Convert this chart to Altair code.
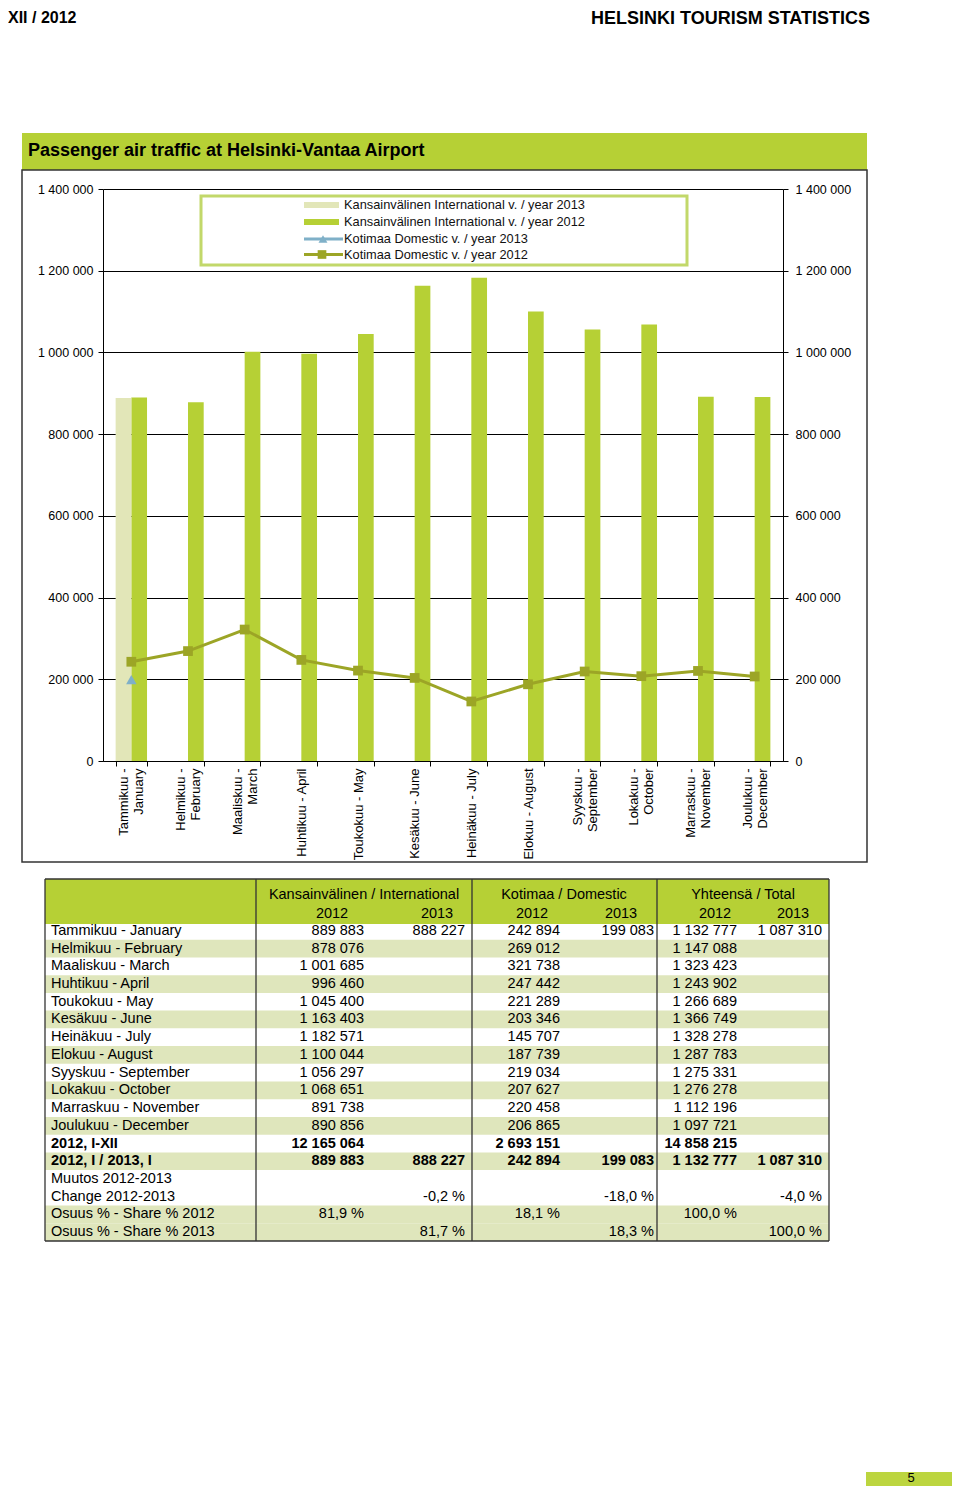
import altair as alt
import pandas as pd

# ---------------- data ----------------
axis_months = ["Tammikuu -\nJanuary", "Helmikuu -\nFebruary", "Maaliskuu -\nMarch",
               "Huhtikuu - April", "Toukokuu - May", "Kesäkuu - June", "Heinäkuu - July",
               "Elokuu - August", "Syyskuu -\nSeptember", "Lokakuu -\nOctober",
               "Marraskuu -\nNovember", "Joulukuu -\nDecember"]
table_months = ["Tammikuu - January", "Helmikuu - February", "Maaliskuu - March",
                "Huhtikuu - April", "Toukokuu -  May", "Kesäkuu - June", "Heinäkuu - July",
                "Elokuu - August", "Syyskuu - September", "Lokakuu - October",
                "Marraskuu - November", "Joulukuu - December"]
intl_2012 = [889883, 878076, 1001685, 996460, 1045400, 1163403, 1182571, 1100044,
             1056297, 1068651, 891738, 890856]
intl_2013 = [888227]
dom_2012 = [242894, 269012, 321738, 247442, 221289, 203346, 145707, 187739,
            219034, 207627, 220458, 206865]
dom_2013 = [199083]
total_2012 = [1132777, 1147088, 1323423, 1243902, 1266689, 1366749, 1328278, 1287783,
              1275331, 1276278, 1112196, 1097721]
total_2013 = [1087310]

sum_label = "2012, I-XII"
sum_values = [12165064, 2693151, 14858215]          # intl, dom, total 2012
jan_label = "2012, I / 2013, I"
jan_values = [889883, 888227, 242894, 199083, 1132777, 1087310]
change_labels = ["Muutos  2012-2013", "Change 2012-2013"]
change_values = [-0.2, -18.0, -4.0]                 # intl, dom, total
share_labels = ["Osuus % - Share % 2012", "Osuus % - Share % 2013"]
share_2012 = [81.9, 18.1, 100.0]
share_2013 = [81.7, 18.3, 100.0]

group_headers = ["Kansainvälinen / International", "Kotimaa / Domestic", "Yhteensä / Total"]
year_headers = ["2012", "2013"]
legend_labels = ["Kansainvälinen International v. / year 2013",
                 "Kansainvälinen International v. / year 2012",
                 "Kotimaa Domestic v. / year 2013",
                 "Kotimaa Domestic v. / year 2012"]
y_ticks = [0, 200000, 400000, 600000, 800000, 1000000, 1200000, 1400000]

# ---------------- layout / style ----------------
W, H = 680, 572
TOTAL_W, TOTAL_H = 944, 1478
OX, OY = 103, 189


def X(p):
    return p - OX


def Y(p):
    return p - OY


F = "Liberation Sans, Arial, sans-serif"
GREEN = "#b6d035"
LIGHT = "#e2e6b8"
OLIVE = "#9ca526"
BLUE = "#7fb0c8"
SHADE = "#dfe6bc"
DARK = "#333333"
TFS = 14.5

one = alt.Data(values=[{"k": 0}])


def rect(x1, y1, x2, y2, **kw):
    return alt.Chart(one).mark_rect(**kw).encode(
        x=alt.value(X(x1)), x2=alt.value(X(x2)), y=alt.value(Y(y1)), y2=alt.value(Y(y2)))


def rule(x1, y1, x2, y2, **kw):
    return alt.Chart(one).mark_rule(**kw).encode(
        x=alt.value(X(x1)), x2=alt.value(X(x2)), y=alt.value(Y(y1)), y2=alt.value(Y(y2)))


def label(x, y, text, **kw):
    base = dict(baseline="middle", color="black")
    base.update(kw)
    return alt.Chart(one).mark_text(text=text, **base).encode(
        x=alt.value(X(x)), y=alt.value(Y(y)))


def fmt(v):
    return f"{v:,}".replace(",", " ")


def pct(v):
    return f"{v:.1f} %".replace(".", ",")


# ---------------- page decorations ----------------
deco = [
    label(8, 18, "XII / 2012", font=F, fontSize=16, fontWeight="bold", align="left"),
    label(870, 19, "HELSINKI TOURISM STATISTICS", font=F, fontSize=18, fontWeight="bold",
          align="right"),
    rect(22, 133, 867, 170, color=GREEN),
    label(28, 151, "Passenger air traffic at Helsinki-Vantaa Airport", font=F, fontSize=18,
          fontWeight="bold", align="left"),
    rect(22, 170, 867, 862, fill="transparent", stroke=DARK, strokeWidth=1.5),
    rect(866, 1472, 960, 1499, color="#bcd53f"),
    label(911, 1478, "5", font=F, fontSize=13, align="center"),
]

# ---------------- main chart ----------------
xscale = alt.Scale(domain=axis_months, paddingInner=0.446, paddingOuter=0.223)
yscale = alt.Scale(domain=[0, 1400000], nice=False, zero=True)
fmt_expr = "join(split(format(datum.value, ','), ','), ' ')"

x_axis = alt.Axis(title=None, orient="bottom", tickBand="extent", labelAngle=270,
                  labelAlign="right", labelBaseline="middle",
                  labelExpr="split(datum.label, '\\n')", labelFont=F, labelFontSize=13,
                  labelColor="black", labelLineHeight=15, labelPadding=2, tickSize=5,
                  labelOffset={"condition": {"test": "indexof(datum.label, '\\n') >= 0",
                                             "value": -7.5}, "value": 0},
                  tickColor="black", domainColor="black", labelOverlap=False,
                  labelBound=False, labelFlush=False, grid=False)
y_left = alt.Axis(title=None, orient="left", values=y_ticks, labelExpr=fmt_expr, grid=True,
                  gridColor="black", gridOpacity=1, gridWidth=1, domainColor="black",
                  tickColor="black", tickSize=5, labelPadding=5, labelFont=F,
                  labelFontSize=12.5, labelColor="black")
y_right = alt.Axis(title=None, orient="right", values=y_ticks, labelExpr=fmt_expr, grid=False,
                   domainColor="black", tickColor="black", tickSize=5, labelPadding=7,
                   labelFont=F, labelFontSize=12.5, labelColor="black")

bar_rows = [{"month": m, "year": "2012", "value": v} for m, v in zip(axis_months, intl_2012)]
bar_rows += [{"month": m, "year": "2013", "value": v} for m, v in zip(axis_months, intl_2013)]
bar_df = pd.DataFrame(bar_rows)
dom_df = pd.DataFrame({"month": axis_months, "value": dom_2012})
dom13_df = pd.DataFrame({"month": axis_months[:len(dom_2013)], "value": dom_2013})

xenc = alt.X("month:N", scale=xscale, axis=x_axis)

bars = alt.Chart(bar_df).mark_bar().encode(
    x=xenc,
    xOffset=alt.XOffset("year:N", scale=alt.Scale(domain=["2013", "2012"], paddingInner=0,
                                                  paddingOuter=0)),
    y=alt.Y("value:Q", scale=yscale, axis=y_left),
    color=alt.Color("year:N", scale=alt.Scale(domain=["2013", "2012"], range=[LIGHT, GREEN]),
                    legend=None),
)
dline = alt.Chart(dom_df).mark_line(color=OLIVE, strokeWidth=3).encode(
    x=xenc,
    y=alt.Y("value:Q", scale=yscale, axis=y_right),
)
dpts = alt.Chart(dom_df).mark_point(shape="square", filled=True, size=95, color=OLIVE,
                                    opacity=1).encode(
    x=xenc,
    y=alt.Y("value:Q", scale=yscale, axis=None),
)
d13 = alt.Chart(dom13_df).mark_point(shape="triangle-up", filled=True, size=110, color=BLUE,
                                     opacity=1).encode(
    x=xenc,
    y=alt.Y("value:Q", scale=yscale, axis=None),
)
main = alt.layer(bars, dline, dpts, d13).resolve_axis(y="independent")

# ---------------- legend ----------------
leg_y = [205, 222, 239, 254.5]
legend = [
    rect(201, 196, 687, 265, fill="white", stroke="#c2d86a", strokeWidth=3),
    rect(304, 202, 339, 208, color=LIGHT),
    rect(304, 219, 339, 225, color=GREEN),
    rule(304, leg_y[2], 343, leg_y[2], color=BLUE, strokeWidth=3),
    alt.Chart(one).mark_point(shape="triangle-up", filled=True, size=80, color=BLUE,
                              opacity=1).encode(x=alt.value(X(323)), y=alt.value(Y(leg_y[2]))),
    rule(304, leg_y[3], 343, leg_y[3], color=OLIVE, strokeWidth=3),
    alt.Chart(one).mark_point(shape="square", filled=True, size=75, color=OLIVE,
                              opacity=1).encode(x=alt.value(X(322)), y=alt.value(Y(leg_y[3]))),
]
for t, yy in zip(legend_labels, leg_y):
    legend.append(label(344, yy, t, font=F, fontSize=12.8, align="left", color="#111111"))

# ---------------- table ----------------
rows = table_months + [sum_label, jan_label] + change_labels + share_labels
bold_rows = [sum_label, jan_label]
shaded_rows = [m for i, m in enumerate(table_months) if i % 2 == 1] + [jan_label] + share_labels

cells = []
for i, lab in enumerate(table_months):
    cells.append(dict(row=lab, col="i12", text=fmt(intl_2012[i]), bold=False))
    cells.append(dict(row=lab, col="d12", text=fmt(dom_2012[i]), bold=False))
    cells.append(dict(row=lab, col="t12", text=fmt(total_2012[i]), bold=False))
    if i < len(intl_2013):
        cells.append(dict(row=lab, col="i13", text=fmt(intl_2013[i]), bold=False))
    if i < len(dom_2013):
        cells.append(dict(row=lab, col="d13", text=fmt(dom_2013[i]), bold=False))
    if i < len(total_2013):
        cells.append(dict(row=lab, col="t13", text=fmt(total_2013[i]), bold=False))
for c, v in zip(["i12", "d12", "t12"], sum_values):
    cells.append(dict(row=sum_label, col=c, text=fmt(v), bold=True))
for c, v in zip(["i12", "i13", "d12", "d13", "t12", "t13"], jan_values):
    cells.append(dict(row=jan_label, col=c, text=fmt(v), bold=True))
for c, v in zip(["i13", "d13", "t13"], change_values):
    cells.append(dict(row=change_labels[1], col=c, text=pct(v), bold=False))
for c, v in zip(["i12", "d12", "t12"], share_2012):
    cells.append(dict(row=share_labels[0], col=c, text=pct(v), bold=False))
for c, v in zip(["i13", "d13", "t13"], share_2013):
    cells.append(dict(row=share_labels[1], col=c, text=pct(v), bold=False))
cell_df = pd.DataFrame(cells)
label_df = pd.DataFrame({"row": rows, "text": rows, "bold": [r in bold_rows for r in rows]})

row_scale = alt.Scale(type="band", domain=rows, range=[Y(922), Y(1241)], paddingInner=0,
                      paddingOuter=0)
col_right = {"i12": 364, "i13": 465, "d12": 560, "d13": 654, "t12": 737, "t13": 822}

table_layers = [
    alt.Chart(pd.DataFrame({"row": shaded_rows})).mark_rect(color=SHADE).encode(
        x=alt.value(X(45)), x2=alt.value(X(829)),
        y=alt.Y("row:N", scale=row_scale, axis=None)),
    rect(45, 879, 829, 924, color=GREEN),
]
for b in (False, True):
    sub = label_df[label_df["bold"] == b]
    table_layers.append(alt.Chart(sub).mark_text(
        align="left", baseline="middle", font=F, fontSize=TFS,
        fontWeight="bold" if b else "normal", color="black").encode(
        x=alt.value(X(51)), y=alt.Y("row:N", scale=row_scale, axis=None), text="text:N"))
for col, xr in col_right.items():
    for b in (False, True):
        sub = cell_df[(cell_df["col"] == col) & (cell_df["bold"] == b)]
        if len(sub) == 0:
            continue
        table_layers.append(alt.Chart(sub).mark_text(
            align="right", baseline="middle", font=F, fontSize=TFS,
            fontWeight="bold" if b else "normal", color="black").encode(
            x=alt.value(X(xr)), y=alt.Y("row:N", scale=row_scale, axis=None), text="text:N"))
for t, xc in zip(group_headers, [364, 564, 743]):
    table_layers.append(label(xc, 895, t, font=F, fontSize=TFS, align="center"))
for i, xc in enumerate([332, 437, 532, 621, 715, 793]):
    table_layers.append(label(xc, 914, year_headers[i % 2], font=F, fontSize=TFS,
                              align="center"))
for xs in [45, 256, 472, 657, 829]:
    table_layers.append(rule(xs, 879, xs, 1241, color=DARK, strokeWidth=1.3))
table_layers.append(rule(45, 879, 829, 879, color=DARK, strokeWidth=1.3))
table_layers.append(rule(45, 1241, 829, 1241, color=DARK, strokeWidth=1.3))
table = alt.layer(*table_layers)

# ---------------- assemble ----------------
chart = alt.layer(*deco, main, *legend, table).resolve_scale(
    x="independent", y="independent"
).properties(
    width=W, height=H,
    padding={"left": OX - 8, "top": OY - 8, "right": TOTAL_W - (OX - 8) - W,
             "bottom": TOTAL_H - (OY - 8) - H},
    autosize=alt.AutoSizeParams(type="none"),
    background="white",
).configure_view(stroke="transparent")

chart.save("out.html", embed_options={"renderer": "svg", "actions": False})
